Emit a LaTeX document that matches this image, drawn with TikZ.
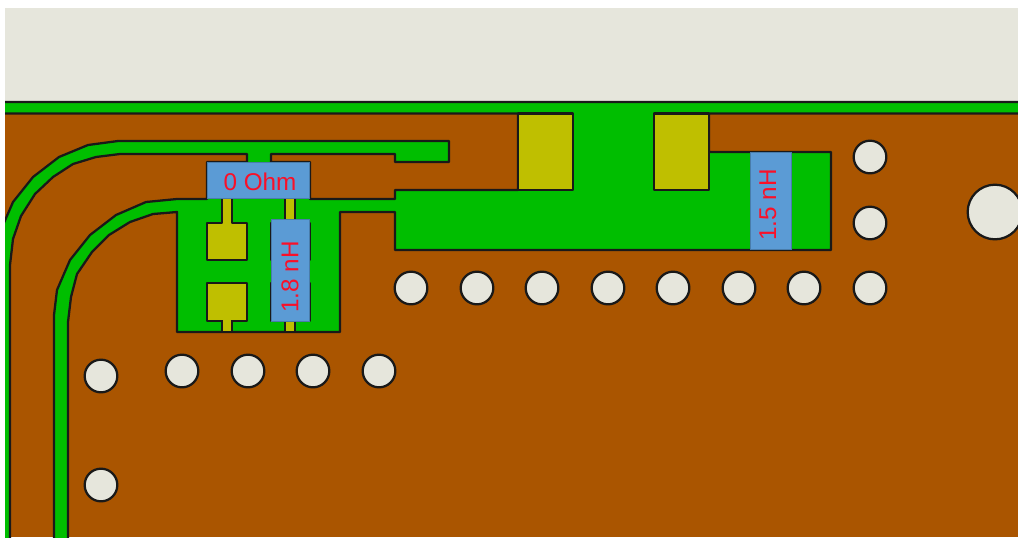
\documentclass[tikz,border=0pt]{standalone}
\usepackage{fontspec}
\setmainfont{Liberation Sans}
\definecolor{creamc}{HTML}{E6E6DC}
\definecolor{greenc}{HTML}{00BE00}
\definecolor{brownc}{HTML}{AA5500}
\definecolor{yellowc}{HTML}{BFBF00}
\definecolor{bluec}{HTML}{5B9BD5}
\definecolor{redc}{HTML}{FA1028}
\tikzset{
  edge/.style={draw=black!90,line width=1.7pt,line join=round},
  via/.style={edge,fill=creamc,circle,minimum size=24.5pt,inner sep=0pt},
  bigvia/.style={edge,fill=creamc,circle,minimum size=41pt,inner sep=0pt},
  pad/.style={edge,fill=yellowc},
  comp/.style={fill=bluec,draw=bluec!80!black,line width=0.5pt},
  lbl/.style={text=redc,font=\fontsize{18.2}{20}\selectfont,inner sep=0pt}
}
\begin{document}
\begin{tikzpicture}[x=0.75pt,y=-0.75pt]
\useasboundingbox (0,0) rectangle (1018,537);
\fill[white] (0,0) rectangle (1018,537);
\begin{scope}
\clip (5,8) rectangle (1018,537);
\fill[creamc] (5,8) rectangle (1018,102);
\fill[brownc] (5,102) rectangle (1018,537);
% copper: both tracks, the top strip and the feed areas
\path[edge,fill=greenc]
  (10,545) -- (10,265) -- (13,239) -- (21,216) -- (35,194) -- (53,177) -- (73,164) -- (96,157) -- (120,154)
  -- (247,154) -- (247,162) -- (207,162) -- (207,199) -- (177,199)
  -- (146,202) -- (116,215) -- (90,235) -- (70,260) -- (57,290) -- (54,315) -- (54,545)
  -- (68,545) -- (68,322) -- (71,297) -- (77,274) -- (92,252) -- (109,235) -- (130,222) -- (153,214) -- (177,212)
  -- (177,332) -- (340,332) -- (340,212) -- (395,212) -- (395,250) -- (831,250) -- (831,152)
  -- (709,152) -- (709,113.5) -- (1025,113.5) -- (1025,102) -- (0,102) -- (0,113.5) -- (518,113.5)
  -- (518,190) -- (395,190) -- (395,199) -- (310,199) -- (310,162) -- (271,162) -- (271,154)
  -- (395,154) -- (395,162) -- (449,162) -- (449,141) -- (118,141)
  -- (88,145) -- (59,157) -- (33,177) -- (13,202) -- (0,232) -- (0,545) -- cycle;
% large solder pads at the strip
\path[pad] (518,113.5) rectangle (573,190);
\path[pad] (654,113.5) rectangle (709,190);
% small pads with necks
\path[pad] (222,190) -- (222,223) -- (207,223) -- (207,260) -- (247,260) -- (247,223) -- (232,223) -- (232,190) -- cycle;
\path[pad] (207,283) rectangle (247,321);
\path[pad] (222,321) -- (222,332) -- (232,332) -- (232,321) -- cycle;
\fill[yellowc] (223,318) rectangle (231,331);
\path[pad] (285,190) -- (285,223) -- (271,223) -- (271,260) -- (310,260) -- (310,223) -- (295,223) -- (295,190) -- cycle;
\path[pad] (271,283) rectangle (310,321);
\path[pad] (285,321) -- (285,332) -- (295,332) -- (295,321) -- cycle;
% components
\path[comp] (207.5,162) rectangle (309.5,198);
\path[comp] (271.7,219) rectangle (309,321);
\path[comp] (750,152.5) rectangle (791,249);
% vias
\foreach \n/\x/\y in {a/870/157,b/870/223,c/870/288,d/411/288,e/477/288,f/542/288,g/608/288,h/673/288,i/739/288,j/804/288,k/182/371,l/248/371,m/313/371,n/379/371,o/101/376,p/101/485}
  \node[via] (via\n) at (\x,\y) {};
\node[bigvia] (viabig) at (995,212) {};
\end{scope}
\node[lbl] (ohm) at (260,182) {0 Ohm};
\node[lbl,rotate=90] (l18) at (290,277) {1.8 nH};
\node[lbl,rotate=90] (l15) at (768,205) {1.5 nH};
\end{tikzpicture}
\end{document}
